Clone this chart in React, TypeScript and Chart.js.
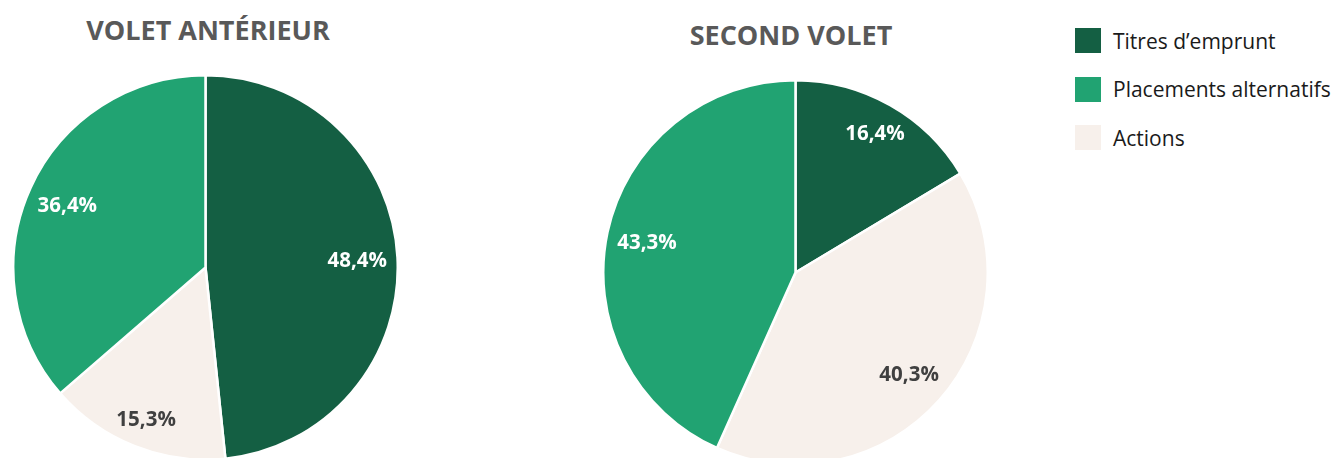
import React, { useEffect, useRef } from "react";
import { Chart, registerables } from "chart.js";

Chart.register(...registerables);

// Data order in each pie (clockwise from 12 o'clock)
const categories = ["Titres d’emprunt", "Actions", "Placements alternatifs"];
const previousValues = [48.4, 15.3, 36.4];
const secondValues = [16.4, 40.3, 43.3];
const titles = ["VOLET ANTÉRIEUR", "SECOND VOLET"];
// Legend order
const legendOrder = ["Titres d’emprunt", "Placements alternatifs", "Actions"];

const colors: Record<string, string> = {
  "Titres d’emprunt": "#145f43",
  "Actions": "#f7f0eb",
  "Placements alternatifs": "#21a372",
};
const labelColors: Record<string, string> = {
  "Titres d’emprunt": "#ffffff",
  "Actions": "#404040",
  "Placements alternatifs": "#ffffff",
};

const FONT = "'Open Sans', 'Noto Sans', sans-serif";

const pctLabels = {
  id: "pctLabels",
  afterDatasetsDraw(chart: any) {
    const ctx = chart.ctx;
    const meta = chart.getDatasetMeta(0);
    const data = chart.data.datasets[0].data as number[];
    const labels = chart.data.labels as string[];
    ctx.save();
    ctx.font = `bold 20.5px ${FONT}`;
    ctx.textAlign = "center";
    ctx.textBaseline = "middle";
    meta.data.forEach((arc: any, i: number) => {
      const p = arc.getProps(["x", "y", "startAngle", "endAngle", "outerRadius"], true);
      const mid = (p.startAngle + p.endAngle) / 2;
      const frac = data[i] < 20 ? 0.84 : 0.79;
      const r = p.outerRadius * frac;
      const x = p.x + Math.cos(mid) * r;
      const y = p.y + Math.sin(mid) * r + 2;
      ctx.fillStyle = labelColors[labels[i]];
      ctx.fillText(data[i].toFixed(1).replace(".", ",") + "%", x, y);
    });
    ctx.restore();
  },
};

function Pie({ values, left, top }: { values: number[]; left: number; top: number }) {
  const ref = useRef<HTMLCanvasElement>(null);
  useEffect(() => {
    if (!ref.current) return;
    const chart = new Chart(ref.current, {
      type: "pie",
      data: {
        labels: categories,
        datasets: [
          {
            data: values,
            backgroundColor: categories.map((c) => colors[c]),
            borderColor: "#ffffff",
            borderWidth: 2.5,
          },
        ],
      },
      options: {
        responsive: false,
        animation: false,
        layout: { padding: 0 },
        plugins: { legend: { display: false }, tooltip: { enabled: false } },
      },
      plugins: [pctLabels],
    });
    return () => chart.destroy();
  }, [values]);
  return (
    <canvas
      ref={ref}
      width={387}
      height={387}
      style={{ position: "absolute", left, top, width: 387, height: 387 }}
    />
  );
}

export default function App() {
  return (
    <div
      style={{
        position: "fixed",
        left: 0,
        top: 0,
        width: 1333,
        height: 458,
        overflow: "hidden",
        background: "#ffffff",
        fontFamily: FONT,
      }}
    >
      <div
        style={{
          position: "absolute",
          left: 0,
          width: 416,
          top: 11,
          textAlign: "center",
          fontWeight: 700,
          fontSize: 27,
          color: "#595959",
          whiteSpace: "nowrap",
        }}
      >
        {titles[0]}
      </div>
      <div
        style={{
          position: "absolute",
          left: 591,
          width: 400,
          top: 16,
          textAlign: "center",
          fontWeight: 700,
          fontSize: 27,
          color: "#595959",
          whiteSpace: "nowrap",
        }}
      >
        {titles[1]}
      </div>
      <Pie values={previousValues} left={12} top={74} />
      <Pie values={secondValues} left={602} top={79} />
      <div style={{ position: "absolute", left: 1075, top: 28 }}>
        {legendOrder.map((c, i) => (
          <div
            key={c}
            style={{ display: "flex", alignItems: "center", height: 25, marginBottom: i < 2 ? 23.5 : 0 }}
          >
            <div style={{ width: 26, height: 25, background: colors[c], marginRight: 12 }} />
            <span style={{ fontSize: 21, color: "#1a1a1a", whiteSpace: "nowrap" }}>{c}</span>
          </div>
        ))}
      </div>
    </div>
  );
}
